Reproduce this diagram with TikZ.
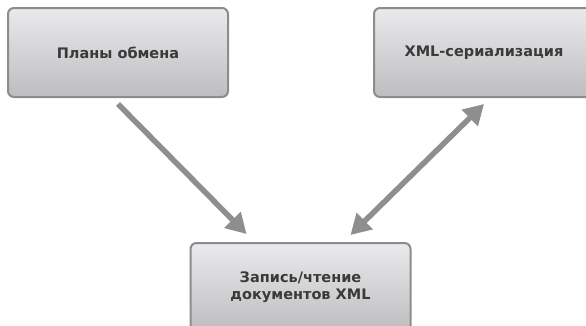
\documentclass[tikz,border=0pt]{standalone}
\usepackage{fontspec}
\setmainfont{DejaVu Sans}
\usepackage{tikz}
\usetikzlibrary{arrows.meta, positioning, calc}
\definecolor{boxedge}{HTML}{8C8C8E}
\definecolor{boxtop}{HTML}{EAEAEC}
\definecolor{boxbottom}{HTML}{BDBDBF}
\definecolor{arrowgray}{HTML}{8E8E90}
\definecolor{textdark}{HTML}{3A3A3A}
\tikzset{
  % Grey blocks
  block/.style={
    rectangle, rounded corners=6pt, minimum width=220pt, minimum height=89pt,
    draw=boxedge, line width=2pt, top color=boxtop, bottom color=boxbottom,
    text=textdark, font=\fontsize{14.5}{17}\selectfont\bfseries,
    align=center
  },
  % Arrow styles
  flow/.style={-{Triangle[length=20pt, width=22pt]}, line width=5.5pt, color=arrowgray},
  twoway/.style={{Triangle[length=20pt, width=22pt]}-{Triangle[length=20pt, width=22pt]},
    line width=5.5pt, color=arrowgray},
}
\begin{document}
\begin{tikzpicture}[x=1pt, y=-1pt]
  \useasboundingbox (0,0) rectangle (586,325);
  \clip (0,0) rectangle (586,325);

  \node[block] (plans) at (118,52.5) {Планы обмена};
  \node[block, right=144pt of plans] (xmlser) {XML-сериализация};
  \node[block] (rw) at (300.5,287.5) {Запись/чтение\\документов XML};

  \draw[flow] ([yshift=-6pt]plans.south) -- ([xshift=57pt, yshift=8pt]rw.north west);
  \draw[twoway] ([xshift=-61pt, yshift=7pt]rw.north east) -- ([yshift=-6pt]xmlser.south);
\end{tikzpicture}
\end{document}
